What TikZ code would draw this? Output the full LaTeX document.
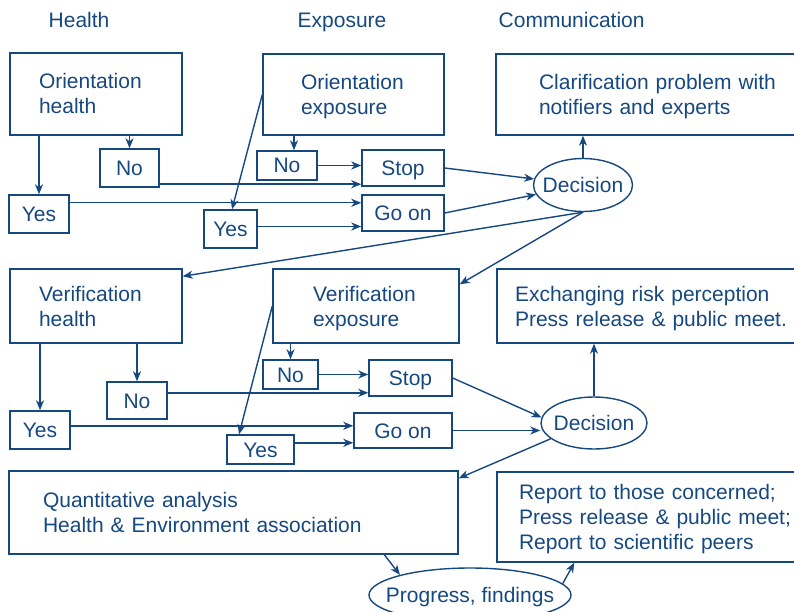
\documentclass[tikz,border=0pt]{standalone}
\usepackage{fontspec}
\setmainfont{Liberation Sans}
\usetikzlibrary{arrows.meta,calc,shapes.geometric}
\definecolor{ink}{RGB}{22,72,128}
\begin{document}
\begin{tikzpicture}[x=1pt,y=-1pt,line width=1.4pt,
  base/.style={font=\fontsize{21}{25}\selectfont, text=ink},
  title/.style={base, anchor=base west, inner sep=0pt},
  panel/.style={base, draw=ink, rectangle, align=left, inner ysep=0pt, text height=15pt, text depth=25pt},
  panel3/.style={panel, text depth=50pt},
  tag/.style={base, draw=ink, rectangle, inner sep=0pt, text height=15pt, text depth=0pt},
  choice/.style={base, draw=ink, ellipse, inner sep=0pt, text height=15pt, text depth=0pt},
  link/.style={draw=ink, -{Stealth[length=10pt,width=8pt,inset=3pt]}}]
\useasboundingbox (0,0) rectangle (794,612);
\clip (0,0) rectangle (794,612);

% column headings
\node[title] (th) at (48,27.5) {Health};
\node[title] (te) at (297,27.5) {Exposure};
\node[title] (tc) at (498,27.5) {Communication};

% orientation stage
\node[panel, text width=114pt, inner xsep=29pt, minimum height=82pt] (oh) at (96,94) {Orientation\\health};
\node[panel, text width=105pt, inner xsep=38pt, minimum height=81pt] (oe) at (353.5,94.5) {Orientation\\exposure};
\node[panel, text width=250pt, inner xsep=43pt, minimum height=81pt] (cl) at (664,94.5) {Clarification problem with\\notifiers and experts};

\node[tag, minimum width=59pt, minimum height=38pt] (no1h) at (129.5,168) {No};
\node[tag, minimum width=60pt, minimum height=38pt] (yes1h) at (39,214) {Yes};
\node[tag, minimum width=60pt, minimum height=29pt] (no1e) at (287,165.5) {No};
\node[tag, minimum width=53pt, minimum height=38pt] (yes1e) at (230.5,229) {Yes};
\node[tag, minimum width=82pt, minimum height=36pt] (stop1) at (403,168) {Stop};
\node[tag, minimum width=82pt, minimum height=36pt] (go1) at (403,213) {Go on};
\node[choice, minimum width=99pt, minimum height=53pt] (d1) at (583,185) {\makebox[0pt]{Decision}};

% verification stage
\node[panel, text width=114pt, inner xsep=29pt, minimum height=74pt] (vh) at (96,306) {Verification\\health};
\node[panel, text width=106pt, inner xsep=40pt, minimum height=74pt] (ve) at (366,306) {Verification\\exposure};
\node[panel, text width=280pt, inner xsep=18pt, minimum height=74pt] (ex) at (655,306) {Exchanging risk perception\\Press release \& public meet.};

\node[tag, minimum width=60pt, minimum height=37pt] (no2h) at (137,400.5) {No};
\node[tag, minimum width=60pt, minimum height=38pt] (yes2h) at (40,430) {Yes};
\node[tag, minimum width=55pt, minimum height=29pt] (no2e) at (290.5,374.5) {No};
\node[tag, minimum width=67pt, minimum height=29pt] (yes2e) at (260.5,449.5) {Yes};
\node[tag, minimum width=83pt, minimum height=36pt] (stop2) at (410.5,378) {Stop};
\node[tag, minimum width=98pt, minimum height=35pt] (go2) at (403,430.5) {Go on};
\node[choice, minimum width=106pt, minimum height=52pt] (d2) at (594,423) {\makebox[0pt]{Decision}};

% analysis stage
\node[panel, text width=381pt, inner xsep=34pt, minimum height=83pt] (qa) at (233.5,512.5) {Quantitative analysis\\Health \& Environment association};
\node[panel3, text width=280pt, inner xsep=22pt, minimum height=90pt] (rp) at (659,517) {Report to those concerned;\\Press release \& public meet;\\Report to scientific peers};
\node[choice, minimum width=202pt, minimum height=54pt] (pf) at (470,595) {\makebox[0pt]{Progress, findings}};

% attachment points on box edges
\coordinate (a1) at ($(no1h.south east)+(0,-3.5)$);
\coordinate (a2) at ($(yes1h.north east)+(0,8.5)$);
\coordinate (a3) at ($(yes1e.east)+(0,-2.5)$);
\coordinate (a4) at ($(vh.north east)+(0,8)$);
\coordinate (a5) at ($(ve.north east)+(0,16)$);
\coordinate (a6) at ($(yes2e.north)+(-21.5,0)$);
\coordinate (a7) at ($(no2h.north east)+(0,11.5)$);
\coordinate (a8) at ($(yes2h.north east)+(0,15.5)$);
\coordinate (a9) at ($(yes2e.north east)+(0,8.5)$);
\coordinate (a10) at ($(qa.north east)+(0,8)$);
\coordinate (a11) at ($(qa.south west)+(376,0)$);
\coordinate (a12) at ($(rp.south west)+(78,0)$);
\coordinate (a13) at ($(oe.south -| no1e.north)+(7,0)$);
\coordinate (a14) at ($(no1e.north)+(7,0)$);

% orientation connectors
\draw[link] (oh.south -| yes1h.north) -- (yes1h.north);
\draw[link] (oh.south -| no1h.north) -- (no1h.north);
\draw[link] (a13) -- (a14);
\draw[link] (oe.west) -- ($(yes1e.north)+(1.5,0)$);
\draw[link] (no1e.east) -- (no1e.east -| stop1.west);
\draw[link] (a1) -- (a1 -| stop1.west);
\draw[link] (a2) -- (a2 -| go1.west);
\draw[link] (a3) -- (a3 -| go1.west);
\draw[link] (stop1.east) -- (d1);
\draw[link] (go1.east) -- (d1);
\draw[link] (d1.north) -- (d1.north |- cl.south);
\draw[link] (d1.south) -- (a4);
\draw[link] (d1.south) -- (a5);

% verification connectors
\draw[link] (vh.south -| yes2h.north) -- (yes2h.north);
\draw[link] (vh.south -| no2h.north) -- (no2h.north);
\draw[link] (ve.south -| no2e.north) -- (no2e.north);
\draw[link] (ve.west) -- (a6);
\draw[link] (no2e.east) -- (no2e.east -| stop2.west);
\draw[link] (a7) -- (a7 -| stop2.west);
\draw[link] (a8) -- (a8 -| go2.west);
\draw[link] (a9) -- (a9 -| go2.west);
\draw[link] (stop2.east) -- (d2.174);
\draw[link] (go2.east) -- (go2.east -| d2.west);
\draw[link] (d2.north) -- (d2.north |- ex.south);
\draw[link] (d2.200) -- (a10);

% analysis connectors
\draw[link] (a11) -- (pf.164);
\draw[link] (pf.7) -- (a12);
\end{tikzpicture}
\end{document}
